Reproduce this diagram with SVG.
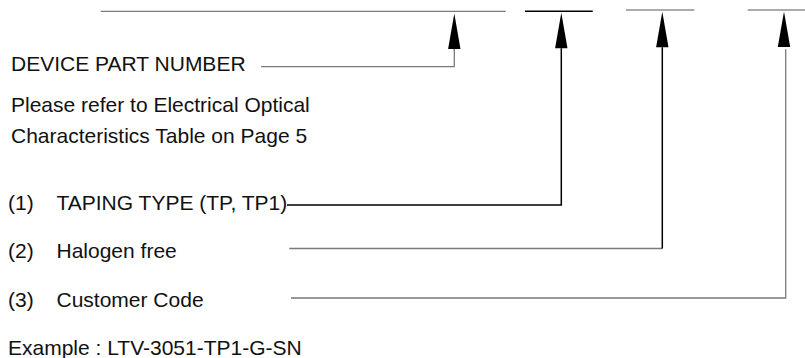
<svg xmlns="http://www.w3.org/2000/svg" width="805" height="358" viewBox="0 0 805 358">
  <style>
    text { font-family: "Liberation Sans", Arial, sans-serif; font-size: 21px; fill: #111; }
    .seg-dark { stroke: #7a7a7a; stroke-width: 1.3; fill: none; }
    .seg-black { stroke: #000; stroke-width: 1.5; fill: none; }
    .seg-light { stroke: #ababab; stroke-width: 2; fill: none; }
    .c-gray { stroke: #7a7a7a; stroke-width: 1.3; fill: none; }
    .c-black { stroke: #000; stroke-width: 1.5; fill: none; }
  </style>
  <defs>
    <marker id="arrow" viewBox="0 -7 36 14" refX="0" refY="0" markerUnits="userSpaceOnUse" markerWidth="36" markerHeight="14" orient="auto" overflow="visible">
      <path d="M0,-6.2 L35.5,0 L0,6.2 Z" fill="#000"/>
    </marker>
  </defs>

  <g id="segment-1"><path class="seg-dark" d="M100.7,11.3 H505.7"/></g>
  <g id="segment-2"><path class="seg-black" d="M525,11.3 H592.7"/></g>
  <g id="segment-3"><path class="seg-light" d="M626,10 H694.3"/></g>
  <g id="segment-4"><path class="seg-light" d="M747.7,10 H805"/></g>

  <g id="label-device"><text x="11" y="71">DEVICE PART NUMBER</text></g>
  <g id="label-note">
    <text x="11" y="111.5">Please refer to Electrical Optical</text>
    <text x="11" y="142.5">Characteristics Table on Page 5</text>
  </g>
  <g id="label-taping"><text x="8" y="209.5">(1)</text><text x="56.5" y="209.5">TAPING TYPE (TP, TP1)</text></g>
  <g id="label-halogen"><text x="8" y="258.3">(2)</text><text x="56.5" y="258.3">Halogen free</text></g>
  <g id="label-customer"><text x="8" y="306.7">(3)</text><text x="56.5" y="306.7">Customer Code</text></g>
  <g id="label-example"><text x="8" y="355">Example : LTV-3051-TP1-G-SN</text></g>

  <g id="connectors">
    <path class="c-gray" d="M261,66.7 H454.3 V49" marker-end="url(#arrow)"/>
    <path class="c-black" d="M287,205 H561.3 V48.3" marker-end="url(#arrow)"/>
    <path class="c-gray" d="M289.3,248.5 H662.3"/>
    <path class="c-black" d="M662.3,248.5 V47.3" marker-end="url(#arrow)"/>
    <path class="c-gray" d="M291,298 H785.7 V49.3"/>
    <path d="M784,47.3 V47" fill="none" stroke="none" marker-end="url(#arrow)"/>
  </g>
</svg>
